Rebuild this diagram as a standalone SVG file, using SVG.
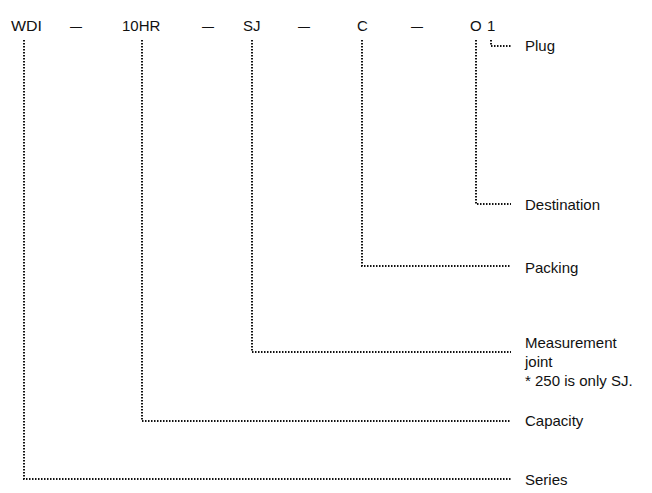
<svg xmlns="http://www.w3.org/2000/svg" width="652" height="493" viewBox="0 0 652 493">
<style>
text{font-family:"Liberation Sans",Arial,sans-serif;font-size:15px;fill:#111}
.d{font-size:15px}
.c{fill:none;stroke:#111;stroke-width:2;stroke-dasharray:1.5 1.5}
</style>
<rect width="652" height="493" fill="#fff"/>
<g id="code">
<text x="11" y="31" textLength="31" lengthAdjust="spacingAndGlyphs">WDI</text>
<text class="d" x="70" y="31" textLength="12" lengthAdjust="spacingAndGlyphs">—</text>
<text x="122" y="31">10HR</text>
<text class="d" x="202" y="31" textLength="12" lengthAdjust="spacingAndGlyphs">—</text>
<text x="243" y="31">SJ</text>
<text class="d" x="298" y="31" textLength="12" lengthAdjust="spacingAndGlyphs">—</text>
<text x="357" y="31">C</text>
<text class="d" x="411" y="31" textLength="12" lengthAdjust="spacingAndGlyphs">—</text>
<text x="470" y="31">O</text>
<text x="487" y="31">1</text>
</g>
<g id="connectors">
<path class="c" d="M24 40V479H511"/>
<path class="c" d="M142 40V421H511"/>
<path class="c" d="M252 40V352H511"/>
<path class="c" d="M362 40V266H511"/>
<path class="c" d="M476 40V204H511"/>
<path class="c" d="M491 40V46H511"/>
</g>
<g id="plug"><text x="525" y="51">Plug</text></g>
<g id="destination"><text x="525" y="210">Destination</text></g>
<g id="packing"><text x="525" y="273">Packing</text></g>
<g id="joint"><text x="525" y="348">Measurement</text><text x="525" y="367">joint</text><text x="525" y="386">* 250 is only SJ.</text></g>
<g id="capacity"><text x="525" y="426">Capacity</text></g>
<g id="series"><text x="525" y="485">Series</text></g>
</svg>
